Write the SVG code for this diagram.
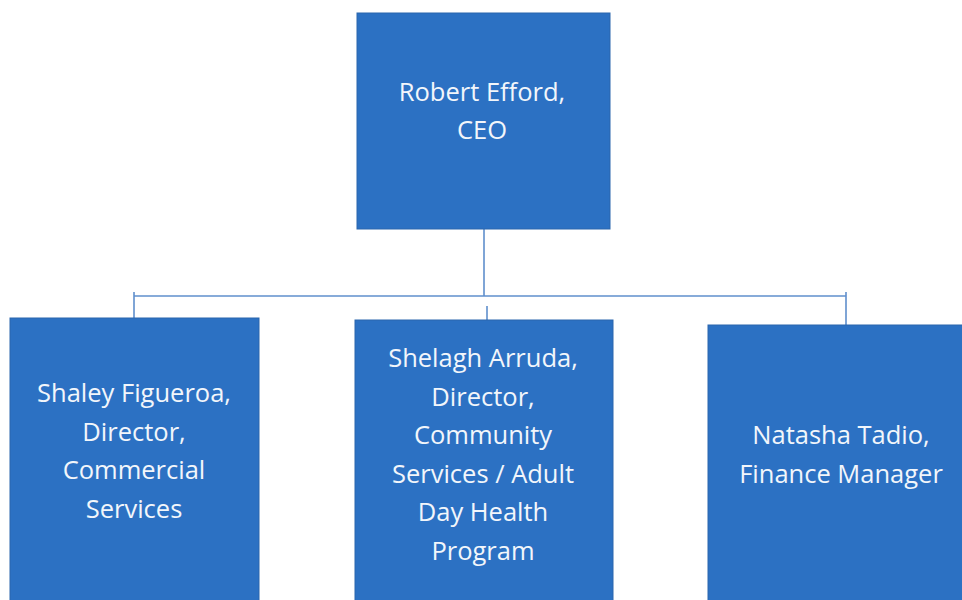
<svg xmlns="http://www.w3.org/2000/svg" width="962" height="600" viewBox="0 0 962 600">
<style>
.box{fill:#2C71C3;stroke:#2a66ad;stroke-width:1}
.t{font-family:"Open Sans","Liberation Sans",sans-serif;font-size:25.5px;fill:#f2f6fb;text-anchor:middle}
.c{stroke:#5f8fcc;stroke-width:1.6;fill:none}
</style>
<rect width="962" height="600" fill="#ffffff"/>
<g id="connectors">
<line class="c" x1="484" y1="229" x2="484" y2="296"/>
<line class="c" x1="134" y1="296" x2="846" y2="296"/>
<line class="c" x1="134" y1="292" x2="134" y2="318"/>
<line class="c" x1="487" y1="306" x2="487" y2="320"/>
<line class="c" x1="846" y1="292" x2="846" y2="325"/>
</g>
<g id="ceo">
<rect class="box" x="357" y="13" width="253" height="216"/>
<text class="t" x="482" y="101">Robert Efford,</text>
<text class="t" x="482" y="139">CEO</text>
</g>
<g id="shaley">
<rect class="box" x="10" y="318" width="249" height="290"/>
<text class="t" x="134" y="402">Shaley Figueroa,</text>
<text class="t" x="134" y="441">Director,</text>
<text class="t" x="134" y="479">Commercial</text>
<text class="t" x="134" y="518">Services</text>
</g>
<g id="shelagh">
<rect class="box" x="355" y="320" width="258" height="290"/>
<text class="t" x="483" y="367">Shelagh Arruda,</text>
<text class="t" x="483" y="406">Director,</text>
<text class="t" x="483" y="444">Community</text>
<text class="t" x="483" y="483">Services / Adult</text>
<text class="t" x="483" y="521">Day Health</text>
<text class="t" x="483" y="560">Program</text>
</g>
<g id="natasha">
<rect class="box" x="708" y="325" width="260" height="290"/>
<text class="t" x="841" y="444">Natasha Tadio,</text>
<text class="t" x="841" y="483">Finance Manager</text>
</g>
</svg>
